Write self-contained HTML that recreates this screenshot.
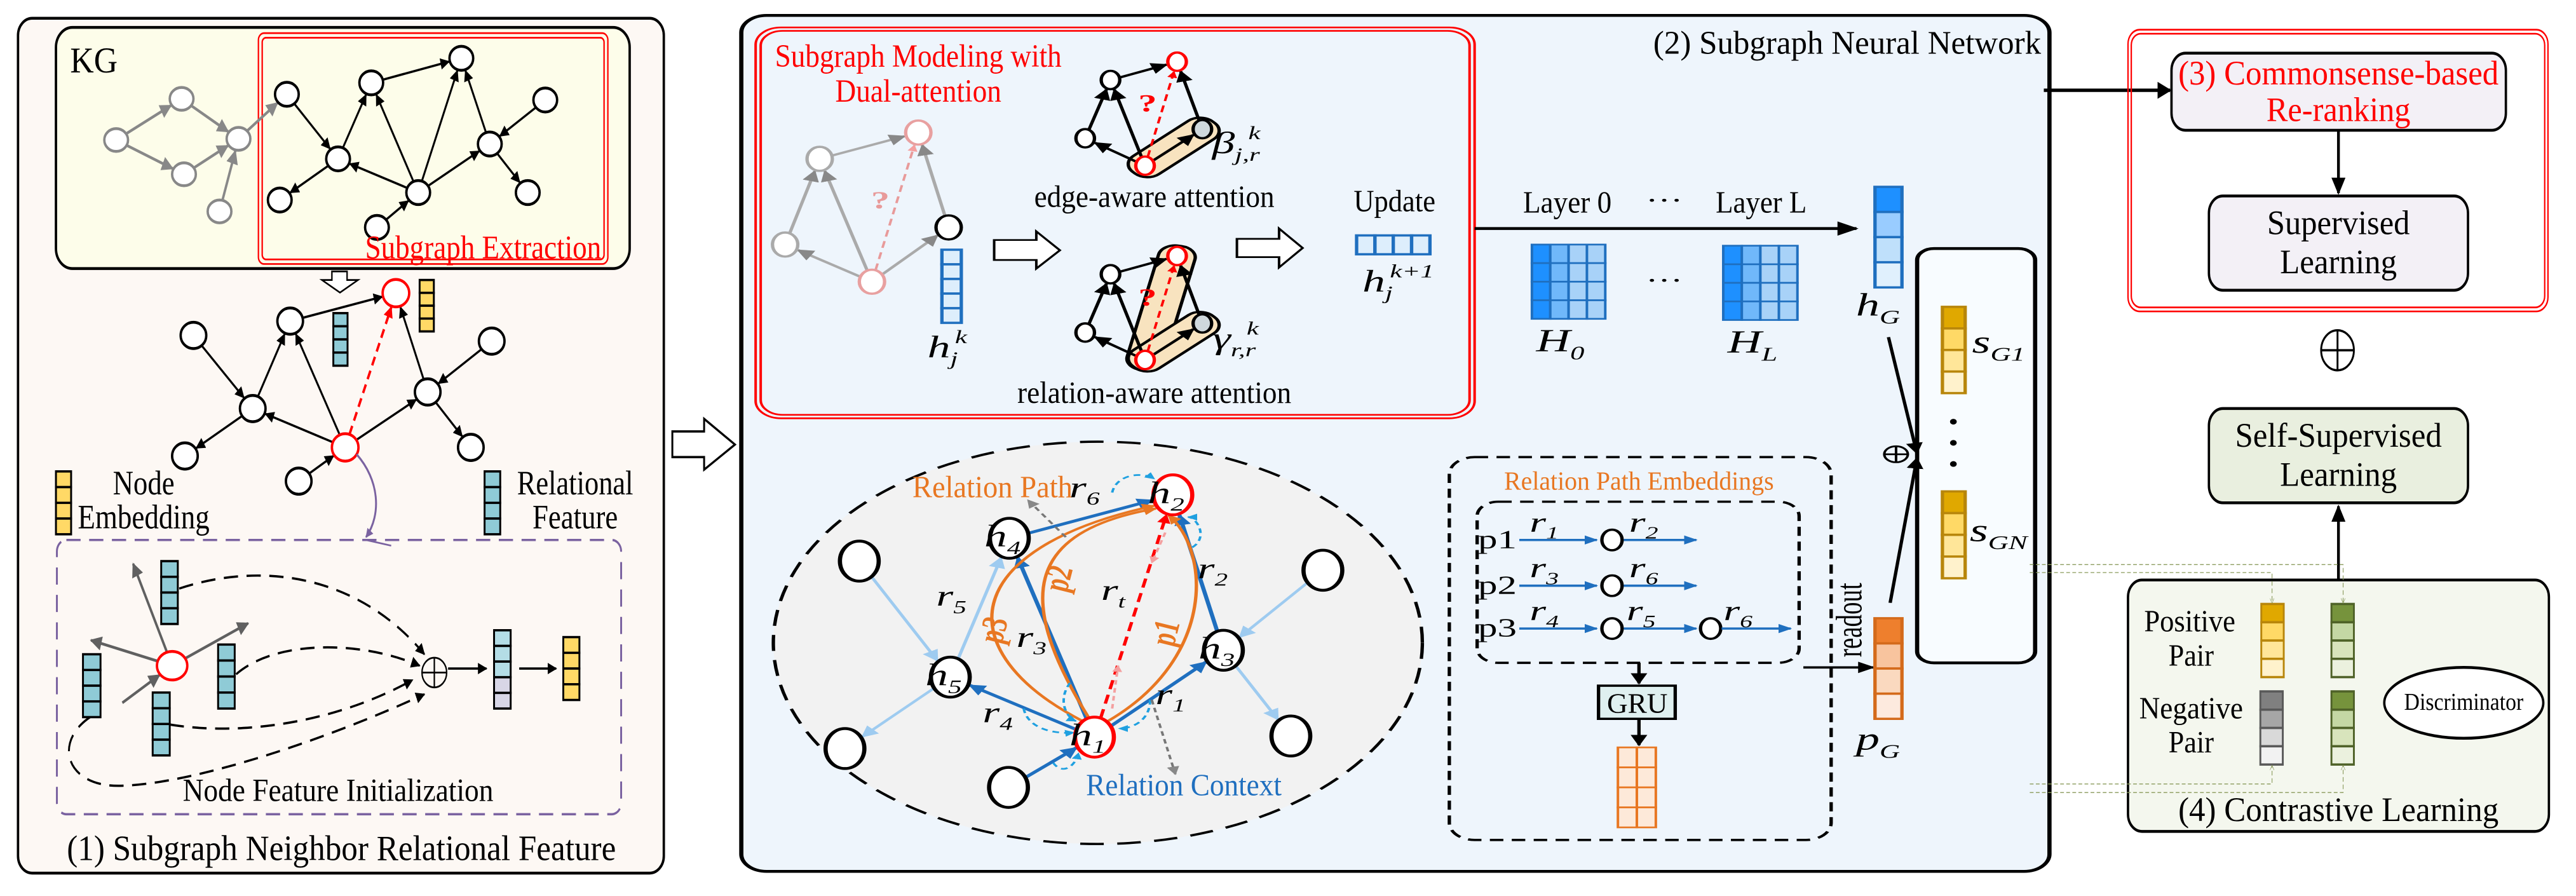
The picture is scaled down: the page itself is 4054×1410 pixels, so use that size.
<!DOCTYPE html>
<html><head><meta charset="utf-8">
<style>
html,body{margin:0;padding:0;background:#fff;}
svg{display:block;font-family:"Liberation Serif",serif;}
</style></head>
<body>
<svg id="s" xmlns="http://www.w3.org/2000/svg" width="4054" height="1410" viewBox="0 0 4054 1410">
<defs>
<marker id="mk" viewBox="0 0 10 10" refX="9" refY="5" markerWidth="5" markerHeight="5" orient="auto"><path d="M0,0L10,5L0,10z" fill="#000"/></marker>
<marker id="mg" viewBox="0 0 10 10" refX="9" refY="5" markerWidth="5" markerHeight="5" orient="auto"><path d="M0,0L10,5L0,10z" fill="#888"/></marker>
<marker id="mg2" viewBox="0 0 10 10" refX="9" refY="5" markerWidth="5" markerHeight="5" orient="auto"><path d="M0,0L10,5L0,10z" fill="#606060"/></marker>
<marker id="mr" viewBox="0 0 10 10" refX="9" refY="5" markerWidth="4" markerHeight="4" orient="auto"><path d="M0,0L10,5L0,10z" fill="#f00"/></marker>
<marker id="mp" viewBox="0 0 10 10" refX="9" refY="5" markerWidth="4" markerHeight="4" orient="auto"><path d="M0,0L10,5L0,10z" fill="#f4a0a0"/></marker>
<marker id="mb" viewBox="0 0 10 10" refX="9" refY="5" markerWidth="4" markerHeight="4" orient="auto"><path d="M0,0L10,5L0,10z" fill="#1f6fbf"/></marker>
<marker id="mlb" viewBox="0 0 10 10" refX="9" refY="5" markerWidth="5" markerHeight="5" orient="auto"><path d="M0,0L10,5L0,10z" fill="#9ecbf0"/></marker>
<marker id="mcy" viewBox="0 0 10 10" refX="9" refY="5" markerWidth="4" markerHeight="4" orient="auto"><path d="M0,0L10,5L0,10z" fill="#1fa0e0"/></marker>
<marker id="mo" viewBox="0 0 10 10" refX="9" refY="5" markerWidth="4" markerHeight="4" orient="auto"><path d="M0,0L10,5L0,10z" fill="#e87722"/></marker>
<marker id="mpu" viewBox="0 0 10 10" refX="9" refY="5" markerWidth="4" markerHeight="4" orient="auto"><path d="M0,0L10,5L0,10z" fill="#7a62a0"/></marker>
<marker id="mgr" viewBox="0 0 10 10" refX="9" refY="5" markerWidth="6" markerHeight="6" orient="auto"><path d="M0,0L10,5L0,10" fill="none" stroke="#8a9a5b"/></marker>
</defs>
<g id="g1" transform="scale(0.7462,0.8992)"></g>
<g id="g2" transform="translate(1160,0) scale(1.3265,0.8992)"></g>
<g id="g3" transform="translate(2900,0) scale(0.736,0.8992)"></g>
</svg>
<script>
const NS='http://www.w3.org/2000/svg';
function el(p,tag,a,txt){const e=document.createElementNS(NS,tag);for(const k in a)e.setAttribute(k,a[k]);if(txt!==undefined)e.textContent=txt;p.appendChild(e);return e;}
function N(x,y,rx,ry){return {x,y,rx,ry:ry||rx};}
function bd(n,ux,uy){return 1/Math.sqrt((ux/n.rx)**2+(uy/n.ry)**2);}
function edge(g,a,b,o){o=o||{};let dx=b.x-a.x,dy=b.y-a.y,L=Math.hypot(dx,dy),ux=dx/L,uy=dy/L;
 let s=a.rx?bd(a,ux,uy):0,t=b.rx?bd(b,ux,uy):0;
 const at={x1:a.x+ux*s,y1:a.y+uy*s,x2:b.x-ux*(t+2),y2:b.y-uy*(t+2),stroke:o.c||'#000','stroke-width':o.w||5};
 if(o.d)at['stroke-dasharray']=o.d; if(o.m!==null)at['marker-end']='url(#'+(o.m||'mk')+')';
 el(g,'line',at);}
function node(g,n,o){o=o||{};el(g,'ellipse',{cx:n.x,cy:n.y,rx:n.rx,ry:n.ry,fill:o.f||'#fff',stroke:o.c||'#000','stroke-width':o.w||5});}
function rect(g,x,y,w,h,o){o=o||{};const a={x,y,width:w,height:h,fill:o.f||'none',stroke:o.c||'#000','stroke-width':o.w||5};if(o.r)a.rx=o.r;if(o.d)a['stroke-dasharray']=o.d;return el(g,'rect',a);}
function txt(g,x,y,s,o){o=o||{};const a={x,y,'font-size':o.s||50,fill:o.c||'#000','text-anchor':o.a||'middle'};if(o.i)a['font-style']='italic';if(o.b)a['font-weight']='bold';if(o.tl){a.textLength=o.tl;a.lengthAdjust='spacingAndGlyphs';}if(o.t)a.transform=o.t;return el(g,'text',a,s);}
function vec(g,x,y,w,h,n,cols,o){o=o||{};const ch=h/n;for(let i=0;i<n;i++){rect(g,x,y+i*ch,w,ch,{f:Array.isArray(cols)?cols[i]:cols,c:o.c||'#000',w:o.w||4});}}
function hvec(g,x,y,w,h,n,col,c){const cw=w/n;for(let i=0;i<n;i++)rect(g,x+i*cw,y,cw,h,{f:col,c:c,w:4});}
function oplus(g,x,y,r,w){el(g,'circle',{cx:x,cy:y,r,fill:'none',stroke:'#000','stroke-width':w||3});el(g,'line',{x1:x-r,y1:y,x2:x+r,y2:y,stroke:'#000','stroke-width':w||3});el(g,'line',{x1:x,y1:y-r,x2:x,y2:y+r,stroke:'#000','stroke-width':w||3});}
function path(g,d,o){o=o||{};const a={d,fill:o.f||'none',stroke:o.c||'#000','stroke-width':o.w||5};if(o.d)a['stroke-dasharray']=o.d;if(o.m)a['marker-end']='url(#'+o.m+')';return el(g,'path',a);}
function mlabel(g,x,y,base,sub,o){o=o||{};const s=o.s||48;const t=el(g,'text',{x:x-s*0.15,y,'font-size':s,'font-style':'italic',fill:o.c||'#000','text-anchor':'middle'});
 el(t,'tspan',{},base);el(t,'tspan',{'font-size':s*0.6,dy:s*0.25},sub);
 if(o.sup){el(g,'text',{x:x+s*0.12,y:y-s*0.45,'font-size':s*0.6,'font-style':'italic','text-anchor':'start',fill:o.c||'#000'},o.sup);}return t;}

/* ================= PANEL 1 ================= */
const g1=document.getElementById('g1');
rect(g1,38,32,1362,1496,{f:'#fdf8f4',r:30});
rect(g1,118,48,1210,422,{f:'#fdfdea',r:35});
rect(g1,545,58,737,404,{c:'#f00',w:3,r:12});
rect(g1,553,66,721,388,{c:'#f00',w:3,r:8});
txt(g1,148,127,'KG',{s:64,a:'start',tl:100});
{const gr=[N(245,245,25,20),N(383,173,25,20),N(503,243,25,20),N(388,305,25,20),N(463,370,25,20)];
 const bl={a:N(605,165,25,21),b:N(783,145,25,21),c:N(973,102,25,21),d:N(713,278,25,21),e:N(590,350,25,21),f:N(882,337,25,21),g:N(1033,252,25,21),h:N(1150,175,25,21),i:N(1113,337,25,21),j:N(795,398,25,21)};
 const go={c:'#888',m:'mg'};
 edge(g1,gr[0],gr[1],go);edge(g1,gr[0],gr[3],go);edge(g1,gr[1],gr[2],go);edge(g1,gr[3],gr[2],go);edge(g1,gr[4],gr[2],go);edge(g1,gr[2],bl.a,go);
 [['a','d'],['d','b'],['f','b'],['f','d'],['d','e'],['f','c'],['b','c'],['f','g'],['g','c'],['h','g'],['g','i'],['j','f']].forEach(p=>edge(g1,bl[p[0]],bl[p[1]],{w:4}));
 gr.forEach(n=>node(g1,n,{c:'#888'}));Object.values(bl).forEach(n=>node(g1,n));}
txt(g1,1268,452,'Subgraph Extraction',{s:58,c:'#f00',a:'end',tl:498});
path(g1,'M700,475 L732,475 L732,490 L755,490 L717,512 L679,490 L700,490 Z',{w:3,f:'#fff'});
{const m={r:N(835,513,28,24),a:N(612,562,27,23),b:N(408,587,27,23),c:N(533,715,27,23),d:N(390,798,27,23),e:N(728,783,28,24),f:N(630,842,27,23),g:N(902,686,27,23),h:N(1037,597,27,23),i:N(993,783,27,23)};
 [['a','r'],['b','c'],['c','a'],['e','a'],['e','c'],['c','d'],['e','g'],['g','r'],['h','g'],['g','i'],['f','e']].forEach(p=>edge(g1,m[p[0]],m[p[1]],{w:4}));
 edge(g1,m.e,m.r,{c:'#f00',w:5,d:'16,10',m:'mr'});
 Object.entries(m).forEach(([k,n])=>node(g1,n,{c:(k=='r'||k=='e')?'#f00':'#000'}));}
vec(g1,703,548,30,92,4,'#8fcbd6');
vec(g1,885,490,30,90,4,'#ffd966');
path(g1,'M752,795 C800,840 805,900 772,940',{c:'#7a62a0',w:4,m:'mpu'});
path(g1,'M772,945 L825,955',{c:'#7a62a0',w:3});
vec(g1,118,825,32,110,4,'#ffd966');
txt(g1,303,865,'Node',{s:60,tl:130});txt(g1,303,925,'Embedding',{s:60,tl:278});
vec(g1,1022,825,33,110,4,'#8fcbd6');
txt(g1,1213,865,'Relational',{s:60,tl:245});txt(g1,1213,925,'Feature',{s:60,tl:180});
rect(g1,120,945,1190,480,{c:'#7a62a0',w:4,r:20,d:'30,18'});
{const rn=N(363,1165,32,25);
 edge(g1,rn,{x:280,y:985},{c:'#606060',w:5,m:'mg2'});edge(g1,rn,{x:190,y:1120},{c:'#606060',w:5,m:'mg2'});edge(g1,rn,{x:525,y:1090},{c:'#606060',w:5,m:'mg2'});edge(g1,{x:258,y:1230},rn,{c:'#606060',w:5,m:'mg2'});
 node(g1,rn,{c:'#f00'});}
const dl={c:'#000',w:4,d:'30,18',m:'mk'};
path(g1,'M378,1030 C560,980 760,1010 895,1145',dl);
path(g1,'M498,1180 C580,1120 760,1120 885,1165',dl);
path(g1,'M358,1268 C520,1290 720,1260 870,1190',dl);
path(g1,'M190,1255 C110,1300 140,1380 260,1375 C420,1370 700,1290 895,1215',dl);
vec(g1,340,982,35,110,4,'#8fcbd6');vec(g1,175,1145,37,110,4,'#8fcbd6');vec(g1,460,1128,35,112,4,'#8fcbd6');vec(g1,322,1212,36,110,4,'#8fcbd6');
oplus(g1,916,1177,26,3);
edge(g1,{x:945,y:1170},{x:1028,y:1170},{w:4});
vec(g1,1042,1103,35,137,5,['#b4dde6','#b4dde6','#b4dde6','#d8d6e6','#d8d6e6']);
edge(g1,{x:1095,y:1170},{x:1175,y:1170},{w:4});
vec(g1,1188,1115,34,110,4,'#ffd966');
txt(g1,713,1402,'Node Feature Initialization',{s:56,tl:655});
txt(g1,720,1505,'(1) Subgraph Neighbor Relational Feature',{s:62,tl:1158});
path(g1,'M1418,755 L1485,755 L1485,733 L1550,778 L1485,822 L1485,800 L1418,800 Z',{w:4,f:'#fff'});

/* ================= PANEL 2 ================= */
const g2=document.getElementById('g2');
rect(g2,5,27,1552,1498,{f:'#eef5fc',r:30});
rect(g2,22,48,853,684,{c:'#f00',w:3,r:30});rect(g2,28,54,841,672,{c:'#f00',w:3,r:26});
txt(g2,45,117,'Subgraph Modeling with',{s:56,c:'#f00',a:'start',tl:340});
txt(g2,215,178,'Dual-attention',{s:56,c:'#f00',tl:197});
txt(g2,1547,94,'(2) Subgraph Neural Network',{s:58,a:'end',tl:460});
{const n={a:N(98,278,15,21),b:N(215,232,15,21),c:N(57,428,15,21),d:N(160,493,15,21),e:N(251,398,15,21)};
 const go={c:'#aaa',w:4,m:'mg'};
 edge(g2,n.a,n.b,go);edge(g2,n.c,n.a,go);edge(g2,n.d,n.a,go);edge(g2,n.d,n.c,go);edge(g2,n.e,n.b,go);edge(g2,n.d,n.e,go);
 edge(g2,n.d,n.b,{c:'#e89a9a',w:3,d:'12,8',m:'mp'});
 txt(g2,170,365,'?',{s:44,c:'#e89a9a',b:1});
 node(g2,n.a,{c:'#aaa',w:4});node(g2,n.b,{c:'#e8a0a0',w:4});node(g2,n.c,{c:'#aaa',w:4});node(g2,n.d,{c:'#e8a0a0',w:4});node(g2,n.e,{w:4});}
vec(g2,243,437,23,128,5,'#ddeefc',{c:'#1f6fbf',w:4});
mlabel(g2,252,625,'h','j',{s:54,sup:'k'});
path(g2,'M305,420 L355,420 L355,405 L383,438 L355,470 L355,455 L305,455 Z',{w:3,f:'#fff'});
path(g2,'M593,418 L643,418 L643,400 L671,434 L643,468 L643,450 L593,450 Z',{w:3,f:'#fff'});
function mini(g,dy,caps){const a=N(443,140+dy,11,16),r=N(522,108+dy,11,16),c=N(413,242+dy,11,16),h=N(484,290+dy,11,16),e=N(552,226+dy,11,16);
 caps.forEach(cp=>{const t=cp=='e'?e:r;const L=Math.hypot(t.x-h.x,t.y-h.y);const ang=Math.atan2(t.y-h.y,t.x-h.x)*180/Math.PI;
  el(g,'rect',{x:h.x-18,y:h.y-22,width:L+36,height:44,rx:20,fill:'#f8e3bf',stroke:'#000','stroke-width':4,transform:`rotate(${ang} ${h.x} ${h.y})`});});
 edge(g,a,r,{w:4});edge(g,c,a,{w:4});edge(g,h,a,{w:4});edge(g,h,c,{w:4});edge(g,e,r,{w:4});edge(g,h,e,{w:4});
 edge(g,h,r,{c:'#f00',w:3,d:'12,8',m:'mr'});txt(g,487,195+dy,'?',{s:44,c:'#f00',b:1});
 node(g,a,{w:4});node(g,r,{c:'#f00',w:4});node(g,c,{w:4});node(g,h,{c:'#f00',w:4});node(g,e,{w:4,f:'#cfd8dc'});}
mini(g2,0,['e']);mini(g2,340,['r','e']);
mlabel(g2,600,268,'β','j,r',{s:54,sup:'k'});
txt(g2,495,362,'edge-aware attention',{s:54,tl:285});
mlabel(g2,598,610,'γ','r,r',{s:54,sup:'k'});
txt(g2,495,705,'relation-aware attention',{s:54,tl:325});
txt(g2,780,370,'Update',{s:54,tl:97});
hvec(g2,735,412,87,33,4,'#ddeefc','#1f6fbf');
mlabel(g2,768,510,'h','j',{s:54,sup:'k+1'});
edge(g2,{x:875,y:400},{x:1330,y:400},{w:5});
txt(g2,985,372,'Layer 0',{s:54,tl:105});txt(g2,1100,365,'···',{s:44});txt(g2,1215,372,'Layer L',{s:54,tl:108});
function mat(g,x,y,w,h){const cw=w/4,ch=h/4;for(let i=0;i<4;i++)for(let j=0;j<4;j++)rect(g,x+j*cw,y+i*ch,cw,ch,{f:j==0?'#1e90ff':(j==1?'#70b8fa':'#a8d2f8'),c:'#1f6fbf',w:3});}
mat(g2,943,428,87,130);mat(g2,1170,430,88,130);
txt(g2,1100,505,'···',{s:44});
mlabel(g2,985,615,'H','0',{s:56});mlabel(g2,1213,617,'H','L',{s:56});
vec(g2,1350,327,32,176,4,['#1e90ff','#99ccff','#bfe0fb','#e0f0fd'],{c:'#1f6fbf',w:4});
mlabel(g2,1362,552,'h','G',{s:56});
rect(g2,1400,435,140,725,{f:'#f8fcff',r:20});
vec(g2,1430,537,27,151,4,['#e0a800','#ffd966','#ffe699','#fff2cc'],{c:'#b8860b',w:4});
vec(g2,1430,860,27,152,4,['#e0a800','#ffd966','#ffe699','#fff2cc'],{c:'#b8860b',w:4});
[738,775,812].forEach(y=>el(g2,'ellipse',{cx:1443,cy:y,rx:4,ry:5,fill:'#000'}));
mlabel(g2,1505,617,'s','G1',{s:56});mlabel(g2,1505,947,'s','GN',{s:56});
oplus(g2,1375,795,14,3);
edge(g2,{x:1366,y:590},{x:1400,y:795},{w:4});edge(g2,{x:1368,y:1055},{x:1400,y:800},{w:4});
el(g2,'ellipse',{cx:428,cy:1125,rx:385,ry:352,fill:'#f2f2f2',stroke:'#000','stroke-width':4,'stroke-dasharray':'28,16'});
{const H2=N(517,866,23,35),H4=N(323,942,23,35),H5=N(253,1185,23,35),H1=N(424,1290,23,35),H3=N(577,1138,23,35),
 o1=N(145,982,23,35),o2=N(695,998,23,35),o3=N(128,1310,23,35),o4=N(657,1288,23,35),o5=N(322,1378,23,35);
 const lb={c:'#9ecbf0',w:4,m:'mlb'},db={c:'#1f6fbf',w:5,m:'mb'};
 edge(g2,o1,H5,lb);edge(g2,H5,H4,lb);edge(g2,H5,o3,lb);edge(g2,o2,H3,lb);edge(g2,H3,o4,lb);
 edge(g2,H1,H4,db);edge(g2,H4,H2,db);edge(g2,H1,H5,db);edge(g2,H1,H3,db);edge(g2,H3,H2,db);edge(g2,o5,H1,db);
 const oc={c:'#e87722',w:4,m:'mo'};
 path(g2,'M410,1262 C250,1140 260,960 495,885',oc);
 path(g2,'M418,1258 C330,1050 340,930 497,890',oc);
 path(g2,'M440,1262 C570,1150 560,960 512,902',oc);
 edge(g2,H1,H2,{c:'#f00',w:4,d:'16,10',m:'mr'});
 path(g2,'M445,1240 L452,1165',{c:'#f4a0a0',w:3,d:'8,6',m:'mp'});path(g2,'M508,932 L492,985',{c:'#f4a0a0',w:3,d:'8,6',m:'mp'});
 const cy={c:'#1fa0e0',w:3,d:'8,6',m:'mcy'};
 path(g2,'M445,862 C450,830 480,825 495,838',cy);path(g2,'M540,958 C560,940 545,905 535,905',cy);
 path(g2,'M395,1195 C380,1225 390,1255 402,1262',cy);path(g2,'M340,1240 C345,1275 375,1285 400,1282',cy);
 path(g2,'M490,1225 C490,1260 470,1275 453,1275',cy);path(g2,'M375,1335 C385,1355 400,1345 405,1318',cy);
 path(g2,'M390,940 L345,875',{c:'#777',w:3,d:'8,6',m:'mg'});path(g2,'M492,1225 L520,1355',{c:'#777',w:3,d:'8,6',m:'mg'});
 [[H2,'2',1],[H4,'4'],[H5,'5'],[H1,'1',1],[H3,'3'],[o1],[o2],[o3],[o4],[o5]].forEach(a=>{node(g2,a[0],{c:a[2]?'#f00':'#000',w:5});if(a[1])mlabel(g2,a[0].x,a[0].y+14,'h',a[1],{s:54});});
 txt(g2,303,870,'Relation Path',{s:54,c:'#e87722',tl:190});
 mlabel(g2,420,870,'r','6',{s:52});mlabel(g2,262,1060,'r','5',{s:52});mlabel(g2,572,1012,'r','2',{s:52});
 mlabel(g2,454,1050,'r','t',{s:52});mlabel(g2,357,1132,'r','3',{s:52});mlabel(g2,522,1232,'r','1',{s:52});mlabel(g2,317,1264,'r','4',{s:52});
 txt(g2,318,1105,'p3',{s:44,c:'#e87722',b:1,i:1,t:'rotate(-80 318 1105)'});
 txt(g2,395,1015,'p2',{s:44,c:'#e87722',b:1,i:1,t:'rotate(-80 395 1015)'});
 txt(g2,522,1110,'p1',{s:44,c:'#e87722',b:1,i:1,t:'rotate(-80 522 1110)'});
 txt(g2,530,1392,'Relation Context',{s:54,c:'#1f6fbf',tl:232});}
rect(g2,845,800,453,670,{w:4,r:30,d:'16,10'});
txt(g2,1070,857,'Relation Path Embeddings',{s:46,c:'#e87722',tl:320});
rect(g2,878,878,382,282,{w:4,r:25,d:'16,10'});
{const bb={c:'#1f6fbf',w:4,m:'mb'};
 [[945,'p1','1','2'],[1025,'p2','3','6']].forEach(r=>{txt(g2,902,r[0]+14,r[1],{s:46});edge(g2,{x:928,y:r[0]},{x:1022,y:r[0]},bb);node(g2,N(1038,r[0],12,18),{w:4});edge(g2,{x:1052,y:r[0]},{x:1140,y:r[0]},bb);mlabel(g2,965,r[0]-15,'r',r[2],{s:50});mlabel(g2,1083,r[0]-15,'r',r[3],{s:50});});
 const y=1100;txt(g2,902,y+14,'p3',{s:46});edge(g2,{x:928,y},{x:1022,y},bb);node(g2,N(1038,y,12,18),{w:4});edge(g2,{x:1052,y},{x:1140,y},bb);node(g2,N(1155,y,12,18),{w:4});edge(g2,{x:1168,y},{x:1252,y},bb);
 mlabel(g2,965,y-15,'r','4',{s:50});mlabel(g2,1080,y-15,'r','5',{s:50});mlabel(g2,1195,y-15,'r','6',{s:50});}
edge(g2,{x:1070,y:1160},{x:1070,y:1198},{w:4});
rect(g2,1022,1200,91,58,{f:'#dff0f0',w:4});txt(g2,1068,1247,'GRU',{s:50,tl:72});
edge(g2,{x:1070,y:1258},{x:1070,y:1306},{w:4});
for(let i=0;i<4;i++)for(let j=0;j<2;j++)rect(g2,1045+j*22.5,1308+i*35,22.5,35,{f:'#fde9d9',c:'#e87722',w:3});
txt(g2,1334,1085,'readout',{s:44,t:'rotate(-90 1334 1085)',tl:130});
edge(g2,{x:1265,y:1168},{x:1350,y:1168},{w:4});
vec(g2,1350,1082,32,176,4,['#ee7f2d','#f8c49e','#fad9bf','#fdeade'],{c:'#d46a1a',w:4});
mlabel(g2,1362,1312,'p','G',{s:56});

/* ================= PANEL 3 ================= */
const g3=document.getElementById('g3');
edge(g3,{x:430,y:158},{x:702,y:158},{w:6});
rect(g3,610,52,898,493,{c:'#f00',w:3,r:25});rect(g3,617,59,884,479,{c:'#f00',w:3,r:20});
rect(g3,703,93,715,135,{f:'#f3f0f6',r:30});
txt(g3,1060,148,'(3) Commonsense-based',{s:60,c:'#f00',tl:685});
txt(g3,1060,212,'Re-ranking',{s:60,c:'#f00',tl:308});
edge(g3,{x:1060,y:228},{x:1060,y:340},{w:6});
rect(g3,783,343,554,165,{f:'#f3f0f6',r:30});
txt(g3,1060,410,'Supervised',{s:60,tl:305});txt(g3,1060,478,'Learning',{s:60,tl:250});
oplus(g3,1058,613,35,4);
rect(g3,783,715,554,165,{f:'#e9efdf',r:30});
txt(g3,1060,782,'Self-Supervised',{s:60,tl:442});txt(g3,1060,850,'Learning',{s:60,tl:250});
edge(g3,{x:1060,y:1015},{x:1060,y:884},{w:6});
rect(g3,610,1015,900,440,{f:'#f4f7ee',r:30});
txt(g3,742,1105,'Positive',{s:54,tl:195});txt(g3,745,1165,'Pair',{s:54,tl:97});
txt(g3,745,1257,'Negative',{s:54,tl:222});txt(g3,745,1317,'Pair',{s:54,tl:97});
txt(g3,1060,1437,'(4) Contrastive Learning',{s:60,tl:685});
vec(g3,895,1057,48,128,4,['#e0a800','#ffd966','#ffe699','#fff2cc'],{c:'#b8860b',w:4});
vec(g3,1045,1057,48,128,4,['#76933c','#c4d7a4','#d8e4bc','#ebf1de'],{c:'#4f6228',w:4});
vec(g3,893,1210,48,128,4,['#808080','#a6a6a6','#d9d9d9','#f2f2f2'],{c:'#595959',w:4});
vec(g3,1045,1210,48,128,4,['#76933c','#c4d7a4','#d8e4bc','#ebf1de'],{c:'#4f6228',w:4});
el(g3,'ellipse',{cx:1328,cy:1230,rx:170,ry:62,fill:'#fff',stroke:'#000','stroke-width':5});
txt(g3,1328,1242,'Discriminator',{s:42,tl:255});
const gd={c:'#8a9a5b',w:1.5,d:'8,5',m:'mgr'};
path(g3,'M400,988 L1070,988 L1070,1055',gd);path(g3,'M400,1002 L918,1002 L918,1055',gd);
path(g3,'M400,1372 L918,1372 L918,1340',gd);path(g3,'M400,1387 L1070,1387 L1070,1340',gd);
</script>
</body></html>
